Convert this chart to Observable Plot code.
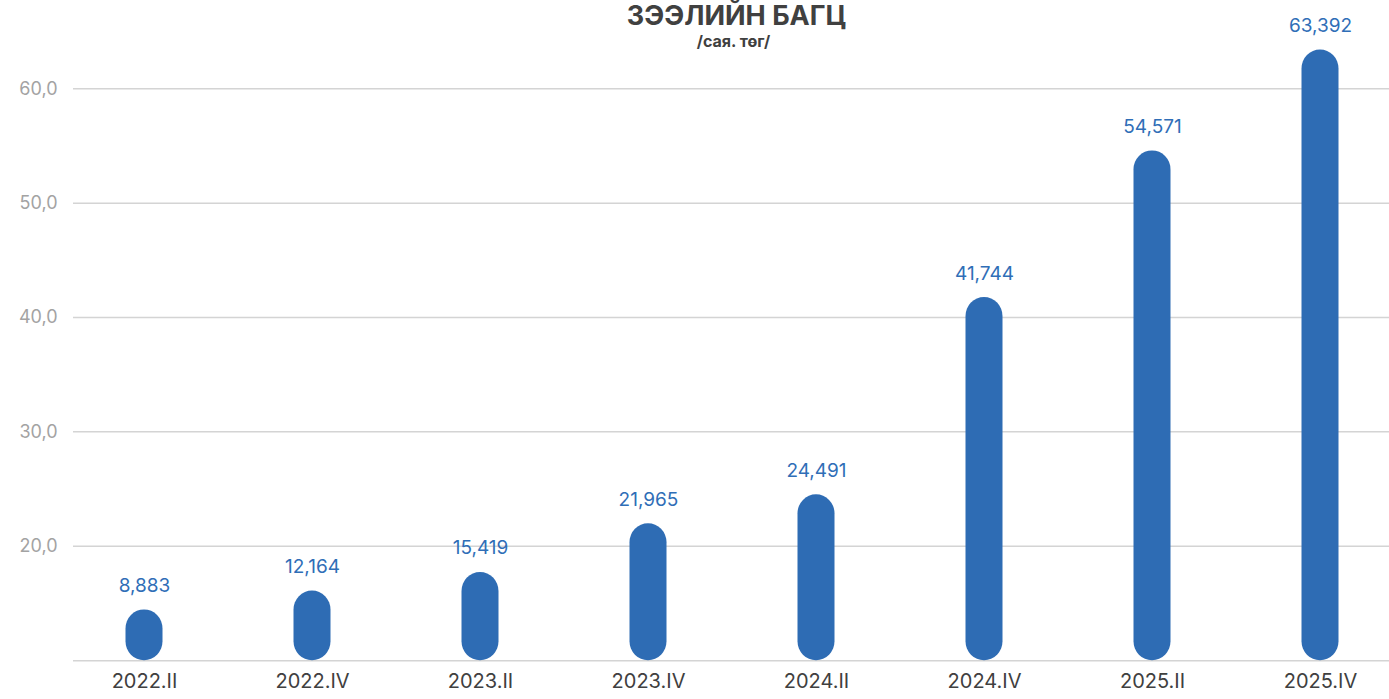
<!DOCTYPE html>
<html>
<head>
<meta charset="utf-8">
<script src="https://cdn.jsdelivr.net/npm/d3@7"></script>
<script src="https://cdn.jsdelivr.net/npm/@observablehq/plot@0.6"></script>
<style>
  html, body { margin: 0; padding: 0; background: #ffffff; }
  #chart { width: 1389px; height: 699px; }
  #chart svg { display: block; }
</style>
</head>
<body>
<div id="chart"></div>
<script>
const categories = ["2022.II", "2022.IV", "2023.II", "2023.IV", "2024.II", "2024.IV", "2025.II", "2025.IV"];
const values = [8.883, 12.164, 15.419, 21.965, 24.491, 41.744, 54.571, 63.392];
const yTicks = [20, 30, 40, 50, 60];
const title = "ЗЭЭЛИЙН БАГЦ";
const subtitle = "/сая. төг/";

const data = categories.map((c, i) => ({period: c, value: values[i]}));
const fmt = (v, d) => v.toFixed(d).replace(".", ",");
const font = "Inter, 'Noto Sans', sans-serif";

const chart = Plot.plot({
  width: 1389,
  height: 699,
  marginTop: 0,
  marginBottom: 39,
  marginLeft: 73,
  marginRight: 0,
  style: {fontFamily: font, background: "#ffffff", overflow: "visible"},
  x: {type: "band", domain: categories, range: [57, 1406], padding: 0, axis: null},
  y: {type: "linear", domain: [0, 20, 60], range: [660.3, 545.7, 88.3], axis: null},
  marks: [
    Plot.ruleY([0, ...yTicks], {stroke: "#d4d4d4", strokeWidth: 1.5}),
    Plot.text(yTicks, {y: d => d, frameAnchor: "left", dx: -16, textAnchor: "end", text: d => fmt(d, 1), fontSize: 18, fill: "#a3a3a3"}),
    Plot.barY(data, {x: "period", y1: 0, y2: "value", insetLeft: 65.5, insetRight: 65.5, rx: 19, fill: "#2E6CB4"}),
    Plot.text(data, {x: "period", y: "value", text: d => fmt(d.value, 3), dy: -18, lineAnchor: "bottom", fontSize: 19, fill: "#2F6EB7"}),
    Plot.text(categories, {x: d => d, frameAnchor: "bottom", dy: 27.6, text: d => d, fontSize: 20, fill: "#404040"}),
    Plot.text([title], {frameAnchor: "top", dx: 5, dy: 24, lineAnchor: "bottom", text: d => d, fontSize: 27, fontWeight: "bold", fill: "#404040"}),
    Plot.text([subtitle], {frameAnchor: "top", dx: 2, dy: 46, lineAnchor: "bottom", text: d => d, fontSize: 16, fontWeight: "bold", fill: "#404040"})
  ]
});
document.getElementById("chart").appendChild(chart);
</script>
</body>
</html>
